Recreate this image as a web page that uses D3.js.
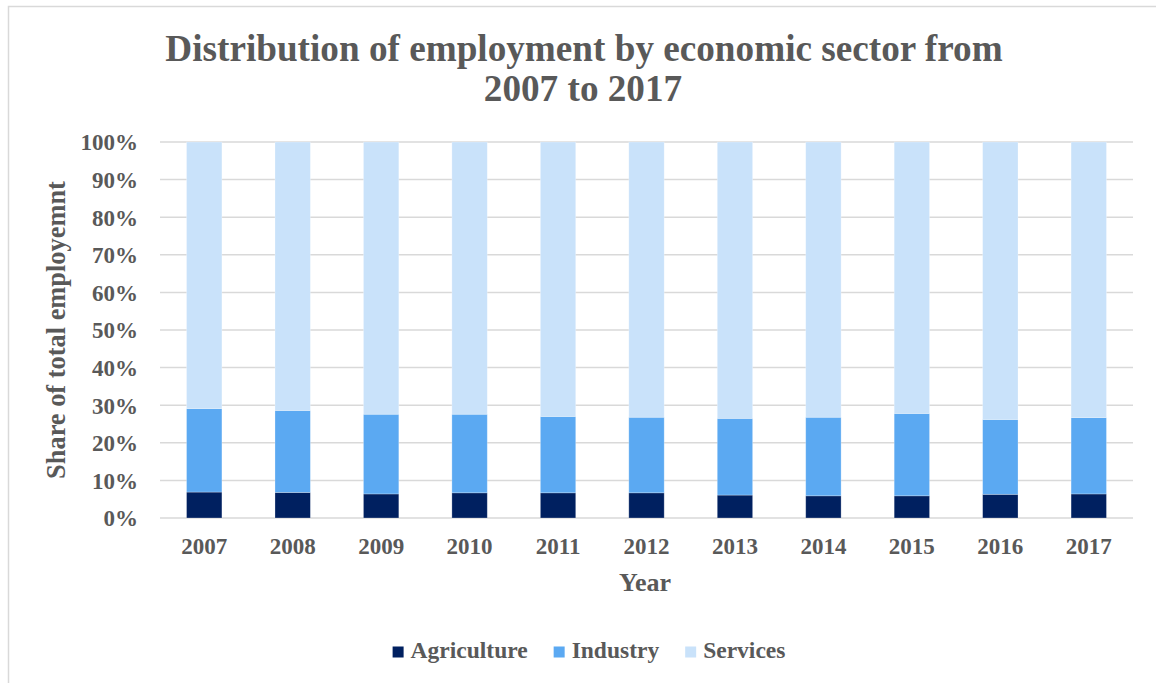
<!DOCTYPE html>
<html>
<head>
<meta charset="utf-8">
<script src="https://cdn.jsdelivr.net/npm/d3@7"></script>
<style>
  body { margin: 0; background: #fff; }
  svg text { font-family: "Liberation Serif", "Times New Roman", serif; font-weight: bold; fill: #595959; }
</style>
</head>
<body>
<svg></svg>
<script>
const YEARS = ['2007', '2008', '2009', '2010', '2011', '2012', '2013', '2014', '2015', '2016', '2017'];
const AGRICULTURE = [6.9, 6.8, 6.4, 6.7, 6.7, 6.7, 6.1, 5.9, 5.9, 6.3, 6.4];
const INDUSTRY = [22.2, 21.8, 21.2, 20.9, 20.3, 20.1, 20.4, 20.9, 21.9, 19.9, 20.3];
const SERVICES = YEARS.map((y, i) => +(100 - AGRICULTURE[i] - INDUSTRY[i]).toFixed(1));
const SECTORS = ['Agriculture', 'Industry', 'Services'];
const Y_TICKS = [0, 10, 20, 30, 40, 50, 60, 70, 80, 90, 100];

const COLORS = { Agriculture: '#002060', Industry: '#5BA9F2', Services: '#C9E2FA' };

const WIDTH = 1156;
const HEIGHT = 683;
const PLOT = { left: 160, right: 1133, top: 142, bottom: 518 };

// rows for the stack
const rows = YEARS.map((year, i) => ({
  year,
  Agriculture: AGRICULTURE[i],
  Industry: INDUSTRY[i],
  Services: SERVICES[i],
}));

const svg = d3.select('svg')
  .attr('width', WIDTH)
  .attr('height', HEIGHT);

// chart border (cropped on right / bottom in the original)
svg.append('rect')
  .attr('x', 8.5).attr('y', 6.5)
  .attr('width', WIDTH + 20).attr('height', HEIGHT + 20)
  .attr('fill', 'none')
  .attr('stroke', '#D9D9D9')
  .attr('stroke-width', 1.5);

const x = d3.scaleBand()
  .domain(YEARS)
  .range([PLOT.left, PLOT.right])
  .paddingInner(0.6)
  .paddingOuter(0.3);

const y = d3.scaleLinear()
  .domain([0, 100])
  .range([PLOT.bottom, PLOT.top]);

// gridlines
svg.append('g')
  .selectAll('line')
  .data(Y_TICKS)
  .enter()
  .append('line')
  .attr('x1', PLOT.left).attr('x2', PLOT.right)
  .attr('y1', d => y(d)).attr('y2', d => y(d))
  .attr('stroke', '#D9D9D9')
  .attr('stroke-width', 1.5);

// y axis labels
const yAxis = svg.append('g')
  .attr('transform', `translate(${PLOT.left - 22}, 0)`)
  .call(d3.axisLeft(y).tickValues(Y_TICKS).tickFormat(d => d + '%').tickSize(0).tickPadding(0));
yAxis.select('.domain').remove();
yAxis.selectAll('text').attr('font-size', 23).attr('dy', '0.34em').attr('fill', '#595959');

// x axis labels
const xAxis = svg.append('g')
  .attr('transform', `translate(0, ${PLOT.bottom})`)
  .call(d3.axisBottom(x).tickSize(0).tickPadding(20));
xAxis.select('.domain').remove();
xAxis.selectAll('text').attr('font-size', 23).attr('fill', '#595959');

// stacked bars
const stack = d3.stack().keys(SECTORS)(rows);

svg.append('g')
  .selectAll('g')
  .data(stack)
  .enter()
  .append('g')
  .attr('fill', d => COLORS[d.key])
  .selectAll('rect')
  .data(d => d)
  .enter()
  .append('rect')
  .attr('x', d => x(d.data.year))
  .attr('width', x.bandwidth())
  .attr('y', d => y(d[1]))
  .attr('height', d => y(d[0]) - y(d[1]))
  .attr('stroke', 'rgba(255,255,255,0.35)')
  .attr('stroke-width', 0.75);

// title
svg.append('text')
  .attr('x', 584).attr('y', 61)
  .attr('text-anchor', 'middle')
  .attr('font-size', 37.2)
  .text('Distribution of employment by economic sector from');
svg.append('text')
  .attr('x', 583).attr('y', 101)
  .attr('text-anchor', 'middle')
  .attr('font-size', 37.2)
  .text('2007 to 2017');

// axis titles
svg.append('text')
  .attr('x', 645).attr('y', 591)
  .attr('text-anchor', 'middle')
  .attr('font-size', 26)
  .text('Year');

svg.append('text')
  .attr('transform', 'translate(65, 330) rotate(-90)')
  .attr('text-anchor', 'middle')
  .attr('font-size', 26.4)
  .text('Share of total employemnt');

// legend
const legend = svg.append('g');
let lx = 0;
SECTORS.forEach(key => {
  const item = legend.append('g').attr('transform', `translate(${lx}, 0)`);
  item.append('rect')
    .attr('x', 0).attr('y', -11)
    .attr('width', 11).attr('height', 11)
    .attr('fill', COLORS[key]);
  const t = item.append('text')
    .attr('x', 18).attr('y', 0)
    .attr('font-size', 23.5)
    .text(key);
  lx += 18 + t.node().getComputedTextLength() + 26;
});
const legendWidth = lx - 26;
legend.attr('transform', `translate(${589 - legendWidth / 2}, 657.5)`);
</script>
</body>
</html>
